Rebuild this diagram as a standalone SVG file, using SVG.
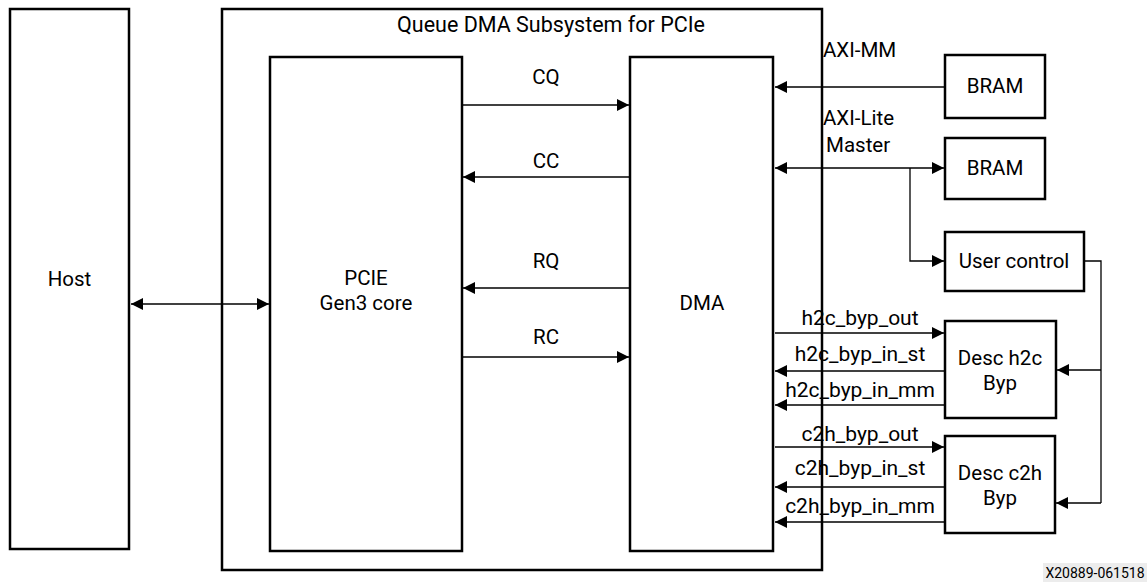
<svg xmlns="http://www.w3.org/2000/svg" width="1147" height="585" viewBox="0 0 1147 585">
<defs>
<marker id="ah" viewBox="0 0 10 10" refX="10" refY="5" markerWidth="16" markerHeight="12" markerUnits="userSpaceOnUse" orient="auto-start-reverse">
<path d="M0,0 L10,5 L0,10 Z" fill="#000"/>
</marker>
</defs>
<style>
.box{fill:#fff;stroke:#000;stroke-width:2.5}
.frame{fill:none;stroke:#000;stroke-width:2.5}
.ln{fill:none;stroke:#000;stroke-width:1.3}
.ar{marker-end:url(#ah)}
.ab{marker-start:url(#ah);marker-end:url(#ah)}
text{font-family:Roboto,"Liberation Sans",sans-serif;font-size:20.5px;fill:#000}
.c{text-anchor:middle}
.s{font-size:21px}
.t{font-size:21.5px}
</style>
<rect width="1147" height="585" fill="#fff"/>
<g id="host"><rect class="box" x="10" y="9" width="119" height="540"/><text class="c" x="69.5" y="286">Host</text></g>
<g id="qdma"><rect class="frame" x="222" y="9" width="600" height="561"/><text class="c t" x="551" y="32">Queue DMA Subsystem for PCIe</text></g>
<g id="pcie"><rect class="box" x="270" y="57" width="192" height="494"/><text class="c" x="366" y="285">PCIE</text><text class="c" x="366" y="310">Gen3 core</text></g>
<g id="dma"><rect class="box" x="630" y="57" width="143" height="494"/><text class="c" x="702" y="310">DMA</text></g>
<g id="bram1"><rect class="box" x="945" y="55" width="100" height="63"/><text class="c" x="995" y="93">BRAM</text></g>
<g id="bram2"><rect class="box" x="945" y="138" width="100" height="61"/><text class="c" x="995" y="175">BRAM</text></g>
<g id="userctl"><rect class="box" x="945" y="232" width="139" height="59"/><text class="c" x="1014" y="268">User control</text></g>
<g id="desch2c"><rect class="box" x="945" y="321" width="111" height="97"/><text class="c" x="1000" y="365">Desc h2c</text><text class="c" x="1000" y="390">Byp</text></g>
<g id="descc2h"><rect class="box" x="945" y="436" width="110" height="97"/><text class="c" x="1000" y="480">Desc c2h</text><text class="c" x="1000" y="505">Byp</text></g>
<g id="connectors">
<line class="ln ab" x1="131" y1="304" x2="269" y2="304"/>
<line class="ln ar" x1="463" y1="105" x2="629" y2="105"/>
<line class="ln ar" x1="629" y1="177" x2="463" y2="177"/>
<line class="ln ar" x1="629" y1="288" x2="463" y2="288"/>
<line class="ln ar" x1="463" y1="357" x2="629" y2="357"/>
<line class="ln ar" x1="944" y1="87" x2="775" y2="87"/>
<line class="ln ab" x1="775" y1="168" x2="944" y2="168"/>
<polyline class="ln ar" points="910,168 910,261 944,261"/>
<polyline class="ln" points="1085,261 1101,261 1101,503"/>
<line class="ln ar" x1="1101" y1="370" x2="1057" y2="370"/>
<line class="ln ar" x1="1101" y1="503" x2="1056" y2="503"/>
<line class="ln ar" x1="775" y1="333" x2="944" y2="333"/>
<line class="ln ar" x1="944" y1="371" x2="775" y2="371"/>
<line class="ln ar" x1="944" y1="405" x2="775" y2="405"/>
<line class="ln ar" x1="775" y1="447" x2="944" y2="447"/>
<line class="ln ar" x1="944" y1="487" x2="775" y2="487"/>
<line class="ln ar" x1="944" y1="522" x2="775" y2="522"/>
</g>
<g id="labels">
<text class="c" x="546" y="84">CQ</text>
<text class="c" x="546" y="168">CC</text>
<text class="c" x="546" y="268">RQ</text>
<text class="c" x="546" y="344">RC</text>
<text x="823" y="57">AXI-MM</text>
<text x="823" y="125">AXI-Lite</text>
<text x="826" y="152">Master</text>
<text class="c s" x="860" y="325">h2c_byp_out</text>
<text class="c s" x="860" y="361">h2c_byp_in_st</text>
<text class="c s" x="860" y="397">h2c_byp_in_mm</text>
<text class="c s" x="860" y="441">c2h_byp_out</text>
<text class="c s" x="860" y="475">c2h_byp_in_st</text>
<text class="c s" x="860" y="513">c2h_byp_in_mm</text>
</g>
<g id="footer"><rect x="1043" y="563" width="104" height="19" fill="#ececec"/><text x="1095" y="578" class="c" style="font-size:14px">X20889-061518</text></g>
</svg>
